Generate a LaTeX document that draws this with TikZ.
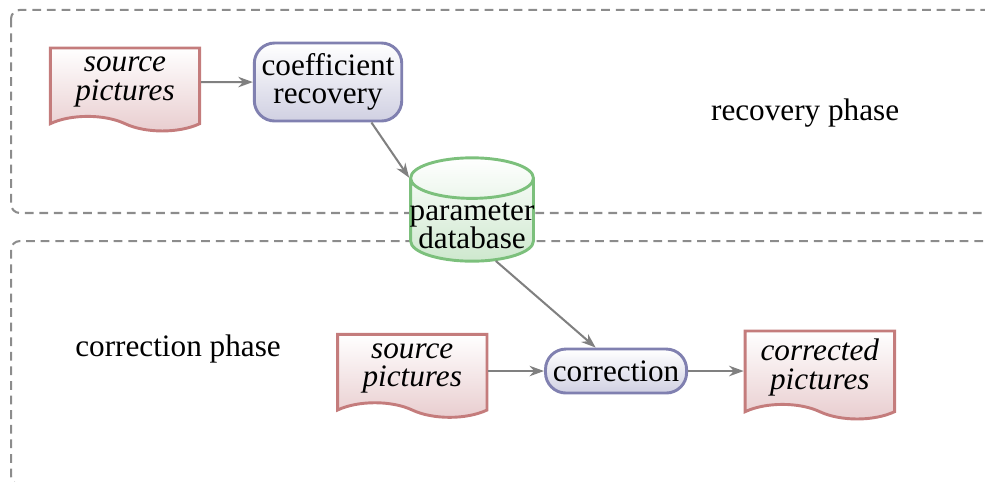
\documentclass[tikz,border=0pt]{standalone}
\usepackage{fontspec}
\setmainfont{Liberation Serif}
\usetikzlibrary{positioning}
\usetikzlibrary{shapes.geometric}
\usetikzlibrary{shapes.symbols}
\usetikzlibrary{arrows.meta}
\definecolor{docline}{RGB}{196,124,124}
\definecolor{docfill}{RGB}{232,204,206}
\definecolor{procline}{RGB}{128,128,176}
\definecolor{procfill}{RGB}{208,208,226}
\definecolor{dbline}{RGB}{124,192,124}
\definecolor{dbfill}{RGB}{206,232,206}
\tikzstyle{docnode} = [draw=docline, line width=1pt, tape, tape bend top=none, tape bend bottom=out and in, tape bend height=5pt, top color=white, bottom color=docfill, align=center, font=\fontsize{10.7}{9.8}\selectfont\itshape, minimum width=1.8cm, minimum height=1.0cm, inner ysep=1pt]
\tikzstyle{procnode} = [draw=procline, line width=1pt, rectangle, rounded corners=7pt, top color=white, bottom color=procfill, align=center, inner xsep=2.5pt]
\tikzstyle{dbnode} = [draw=dbline, line width=1pt, cylinder, shape border rotate=90, aspect=0.33, top color=white, bottom color=dbfill, inner xsep=0.74cm, inner ysep=0pt, minimum height=1.245cm]
\tikzstyle{phase} = [draw=gray!90, line width=0.7pt, dash pattern=on 3pt off 2pt, rounded corners=3pt]
\tikzstyle{flow} = [-{Stealth[length=5pt, width=3.6pt]}, draw=gray, line width=0.7pt]

\begin{document}
\begin{tikzpicture}[font=\fontsize{10.7}{9.8}\selectfont]
  \path[use as bounding box, clip] (0,0) rectangle (11.867,-5.795);
  \draw[phase] (0.133,-0.120) rectangle (12.4,-2.566);
  \draw[phase] (0.133,-2.904) rectangle (12.4,-5.84);

  \node (rec_label) at (9.70,-1.361) {recovery phase};
  \node (cor_label) at (2.145,-4.205) {correction phase};

  \node[docnode] (src_A) at (1.506,-0.99) {source\\pictures};
  \node[procnode, minimum height=0.94cm] (coef) at (3.952,-0.988) {coefficient\\recovery};
  \node[dbnode] (db) at (5.687,-2.777) {};
  \node[align=center, inner sep=0pt] (db_text) at (5.687,-2.72) {parameter\\database};

  \draw[flow] (src_A) -- (coef);
  \draw[flow] (coef.-43) -- (db.140);

  \node[procnode, minimum height=0.53cm, inner ysep=1pt] (corr) at (7.422,-4.47) {correction};
  \node[docnode, left=0.67cm of corr, yshift=0.03cm] (src_B) {source\\pictures};
  \node[docnode, right=0.67cm of corr, yshift=0.04cm, minimum height=1.06cm] (out) {corrected\\pictures};

  \draw[flow] (db.-52) -- (corr.131);
  \draw[flow] (src_B.east |- corr) -- (corr);
  \draw[flow] (corr) -- (out.west |- corr);
\end{tikzpicture}
\end{document}
